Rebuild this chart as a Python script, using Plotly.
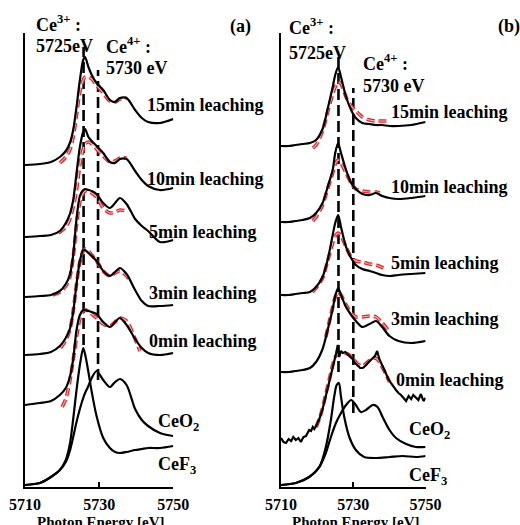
import plotly.graph_objects as go

W, H = 520, 525

# ---------------- Panel (a) data (stacked, arbitrary units) ----------------
GRID_A = [5710, 5714, 5717, 5719.4, 5721, 5722.1, 5723.0, 5723.9, 5724.8, 5725.7,
          5726.2, 5727.1, 5728.0, 5729.3, 5731.1, 5732.9, 5734.3, 5735.6, 5737.4,
          5739.7, 5741.5, 5743.2, 5746.4, 5750]
A_15MIN = [322, 323, 325, 330, 336, 344, 357, 380, 407, 427, 430, 420, 412, 404, 397,
           387, 385, 389, 389, 377, 369, 365, 364, 368]
A_10MIN = [250, 251, 252, 256, 264, 273, 287, 314, 340, 355, 358, 350, 346, 341, 334,
           325, 324, 328, 328, 316, 307, 301, 297, 299]
A_5MIN = [190, 191, 192, 196, 203, 212, 232, 268, 291, 297, 298, 297, 296, 293, 284,
          279, 284, 289, 283, 268, 261, 256, 245, 247]
A_3MIN = [132, 133, 135, 141, 149, 158, 175, 203, 226, 237, 237, 234, 231, 226, 216,
          211, 215, 219, 213, 197, 186, 181, 181, 182]
A_0MIN = [82, 84, 86, 92, 99, 110, 128, 157, 172, 177, 177, 176, 175, 173, 165,
          160, 165, 169, 162, 148, 139, 134, 132, 134]
A_CEO2 = [2, 4, 10, 17, 25, 36, 50, 65, 78, 89, 94, 101, 109, 116, 107, 100, 105, 108,
          102, 78, 67, 61, 54, 51]
A_CEF3 = [2, 4, 10, 17, 27, 43, 68, 97, 122, 139, 133, 115, 95, 71, 49, 39, 35, 34,
          35, 37, 38, 39, 39, 41]

FIT_A_15MIN_E = [5719.4, 5721, 5722.1, 5723.0, 5723.9, 5724.8, 5725.7, 5726.2, 5727.1,
                 5728.0, 5729.3, 5731.1, 5732.9, 5734.3, 5735.6, 5737.4]
FIT_A_15MIN = [324, 330, 337, 350, 372, 395, 407, 410, 410, 408, 402, 394, 386, 385, 388, 389]
FIT_A_10MIN_E = [5719.0, 5721, 5722.1, 5723.0, 5723.9, 5724.8, 5725.7, 5726.2, 5727.1,
                 5728.0, 5729.3, 5731.1, 5732.9, 5734.3, 5735.6, 5737.4]
FIT_A_10MIN = [254, 260, 268, 280, 297, 322, 338, 343, 345, 343, 338, 331, 325, 326, 329, 329]
FIT_A_5MIN_E = [5717.5, 5719.4, 5721, 5722.1, 5723.0, 5723.9, 5724.8, 5725.7, 5726.2,
                5727.1, 5728.0, 5729.3, 5731.1, 5732.9, 5734.3, 5735.6, 5737.4]
FIT_A_5MIN = [192, 195, 201, 210, 230, 262, 285, 294, 296, 296, 294, 290, 279, 274, 275, 277, 276]
FIT_A_3MIN_E = [5719.6, 5721, 5722.1, 5723.0, 5723.9, 5724.8, 5725.7, 5726.2, 5727.1,
                5728.0, 5729.3, 5731.1, 5732.9, 5734.3, 5735.6, 5737.4, 5738.6]
FIT_A_3MIN = [139, 147, 157, 176, 203, 225, 236, 238, 236, 232, 226, 216, 211, 214, 216, 211, 205]
FIT_A_0MIN_E = [5720.0, 5721, 5722.1, 5723.0, 5723.9, 5724.8, 5725.7, 5726.2, 5727.1,
                5728.0, 5729.3, 5731.1, 5732.9, 5734.3, 5735.6, 5737.4, 5739.7, 5741.0]
FIT_A_0MIN = [80, 88, 106, 127, 150, 168, 176, 177, 176, 173, 169, 163, 161, 165, 169, 166, 148, 136]

# ---------------- Panel (b) data ----------------
GRID_B = [5710, 5712, 5714, 5716, 5718, 5719.7, 5721.5, 5722.9, 5724.3, 5725, 5725.8,
          5726.6, 5728, 5729.4, 5730.7, 5732.5, 5734.5, 5736.3, 5738, 5740, 5742.5,
          5746, 5750]
B_15MIN = [341, 341, 342, 343, 344, 347, 358, 378, 400, 412, 420, 410, 390, 377, 369,
           364, 363, 362, 362, 361, 361, 362, 365]
B_10MIN = [265, 265, 266, 267, 269, 274, 284, 300, 317, 334, 344, 334, 317, 304, 298,
           293, 292, 294, 291, 289, 288, 289, 291]
B_5MIN = [192, 192, 193, 194, 195, 200, 210, 227, 252, 264, 272, 260, 240, 229, 222,
          218, 216, 214, 212, 211, 212, 213, 214]
B_3MIN = [115, 115, 116, 117, 119, 125, 138, 157, 178, 191, 199, 192, 180, 172, 166,
          160, 163, 166, 160, 151, 146, 144, 146]

B_0MIN_E = [5710, 5710.7, 5711.4, 5712.1, 5712.8, 5713.4, 5714.1, 5714.8, 5715.5, 5716.2,
            5716.9, 5717.4, 5717.8, 5718.3, 5718.8, 5719.2, 5719.7, 5720.6, 5721.5, 5722.4,
            5723.4, 5724.3, 5725.2, 5725.7, 5726.1, 5726.6, 5727.1, 5727.8, 5728.4, 5729.1,
            5729.8, 5730.5, 5731.2, 5731.9, 5732.6, 5733.3, 5734, 5734.7, 5735.4, 5736,
            5736.6, 5737.2, 5737.7, 5738.4, 5739, 5739.7, 5740.4, 5741.1, 5741.8, 5742.5,
            5743.2, 5743.9, 5744.6, 5745.3, 5746, 5746.6, 5747.3, 5748, 5748.7, 5749.4, 5750]
B_0MIN = [49, 45, 44, 48, 46, 50, 47, 49, 45, 50,
          51, 55, 57, 56, 60, 58, 61, 68, 78, 91,
          105, 120, 133, 142, 130, 136, 134, 135, 133, 131,
          128, 124, 121, 119, 119, 121, 124, 127, 129, 131,
          136, 128, 124, 118, 114, 108, 104, 100, 97, 94,
          92, 89, 86, 91, 88, 92, 89, 87, 93, 86, 89]

B_CEO2_E = [5710, 5714.1, 5717.8, 5720.6, 5722.4, 5723.8, 5725.2, 5726.6, 5728, 5729.4,
            5730.7, 5732.1, 5733.5, 5735.4, 5736.7, 5738.1, 5740, 5741.8, 5744.6, 5747.3, 5750]
B_CEO2 = [2, 4, 10, 20, 34, 50, 64, 74, 82, 87, 82, 75, 77, 82, 80, 70, 57, 49, 43, 40, 40]
B_CEF3_E = [5710, 5714.1, 5717.8, 5720.6, 5722.4, 5723.8, 5724.7, 5725.4, 5726, 5726.6,
            5727.5, 5728.9, 5730.7, 5733, 5736.3, 5740, 5743.7, 5747.3, 5750]
B_CEF3 = [2, 4, 10, 20, 40, 67, 90, 102, 104, 90, 70, 50, 37, 30, 29, 30, 31, 30, 31]

FIT_B_15MIN_E = [5718.8, 5719.7, 5721.5, 5722.9, 5724.3, 5725, 5725.8, 5726.6, 5728,
                 5729.4, 5730.7, 5732.5, 5734.5, 5736.3, 5738, 5739.5]
FIT_B_15MIN = [339, 342, 356, 375, 393, 400, 405, 403, 390, 381, 376, 370, 367, 366, 366, 366]
FIT_B_10MIN_E = [5718.8, 5719.7, 5721.5, 5722.9, 5724.3, 5725, 5725.8, 5726.6, 5728,
                 5729.4, 5730.7, 5732.5, 5734.5, 5736.3, 5737.3]
FIT_B_10MIN = [266, 270, 282, 298, 314, 323, 327, 324, 314, 304, 298, 296, 295, 295, 294]
FIT_B_5MIN_E = [5718.7, 5719.7, 5721.5, 5722.9, 5724.3, 5725, 5725.8, 5726.6, 5728,
                5729.4, 5730.7, 5732.5, 5734.5, 5736.3, 5738.3]
FIT_B_5MIN = [195, 199, 209, 226, 244, 251, 254, 251, 240, 230, 226, 225, 223, 222, 219]
FIT_B_3MIN_E = [5722.4, 5723.4, 5724.3, 5725, 5725.8, 5726.6, 5728, 5729.4, 5730.7,
                5732.5, 5734.5, 5736.3, 5737.8, 5740]
FIT_B_3MIN = [150, 166, 180, 190, 195, 192, 182, 174, 170, 170, 171, 170, 165, 155]
FIT_B_0MIN_E = [5719.7, 5720.6, 5721.5, 5722.4, 5723.4, 5724.3, 5725.2, 5726.1, 5727.1,
                5728.4, 5729.8, 5731.2, 5732.6, 5734, 5735.4, 5736.6, 5737.7, 5739, 5740]
FIT_B_0MIN = [60, 68, 79, 93, 108, 122, 131, 134, 134, 133, 129, 123, 121, 125, 129, 128, 122, 113, 105]

# reference edge markers (Ce3+ ~5725 eV, Ce4+ ~5730 eV) and their vertical extents
MARK_A_E = [5725.8, 5729.7]
MARK_A_SPAN = [[142, 440], [107, 417]]
MARK_B_E = [5725.9, 5730.0]
MARK_B_SPAN = [[115, 430], [74, 399]]

X_TICKS = [5710, 5730, 5750]
Y_MAX = 454

FONT = "Liberation Serif"

fig = go.Figure()


def add_panel(xa, ya, black, fits, marks, spans):
    for e, (y0, y1) in zip(marks, spans):
        fig.add_trace(go.Scatter(x=[e, e], y=[y0, y1], mode="lines", xaxis=xa, yaxis=ya,
                                 line=dict(color="black", width=2.6, dash="11px,5px"),
                                 showlegend=False, hoverinfo="skip"))
    for ex, ey in fits:
        fig.add_trace(go.Scatter(x=ex, y=ey, mode="lines", xaxis=xa, yaxis=ya,
                                 line=dict(color="#e0262b", width=3.6, dash="8px,4px",
                                           shape="spline", smoothing=0.8),
                                 showlegend=False, hoverinfo="skip"))
        fig.add_trace(go.Scatter(x=ex, y=ey, mode="lines", xaxis=xa, yaxis=ya,
                                 line=dict(color="#f7b5b5", width=1.1, dash="8px,4px",
                                           shape="spline", smoothing=0.8),
                                 showlegend=False, hoverinfo="skip"))
    for ex, ey, shp in black:
        fig.add_trace(go.Scatter(x=ex, y=ey, mode="lines", xaxis=xa, yaxis=ya,
                                 line=dict(color="black", width=2.2, shape=shp,
                                           smoothing=0.8 if shp == "spline" else None),
                                 showlegend=False, hoverinfo="skip"))


add_panel("x", "y",
          [(GRID_A, A_15MIN, "spline"), (GRID_A, A_10MIN, "spline"), (GRID_A, A_5MIN, "spline"),
           (GRID_A, A_3MIN, "spline"), (GRID_A, A_0MIN, "spline"),
           (GRID_A, A_CEO2, "spline"), (GRID_A, A_CEF3, "spline")],
          [(FIT_A_15MIN_E, FIT_A_15MIN), (FIT_A_10MIN_E, FIT_A_10MIN), (FIT_A_5MIN_E, FIT_A_5MIN),
           (FIT_A_3MIN_E, FIT_A_3MIN), (FIT_A_0MIN_E, FIT_A_0MIN)],
          MARK_A_E, MARK_A_SPAN)

add_panel("x2", "y2",
          [(GRID_B, B_15MIN, "spline"), (GRID_B, B_10MIN, "spline"), (GRID_B, B_5MIN, "spline"),
           (GRID_B, B_3MIN, "spline"), (B_0MIN_E, B_0MIN, "linear"),
           (B_CEO2_E, B_CEO2, "spline"), (B_CEF3_E, B_CEF3, "spline")],
          [(FIT_B_15MIN_E, FIT_B_15MIN), (FIT_B_10MIN_E, FIT_B_10MIN), (FIT_B_5MIN_E, FIT_B_5MIN),
           (FIT_B_3MIN_E, FIT_B_3MIN), (FIT_B_0MIN_E, FIT_B_0MIN)],
          MARK_B_E, MARK_B_SPAN)

xaxis_common = dict(range=[5710, 5750], tickvals=X_TICKS, ticks="inside", ticklen=5,
                    tickwidth=2, tickcolor="black", showline=True, linewidth=2,
                    linecolor="black", showgrid=False, zeroline=False, automargin=False,
                    tickfont=dict(family=FONT, size=16, color="black", weight="bold"),
                    ticklabelstandoff=2)
yaxis_common = dict(range=[0, Y_MAX], showline=True, linewidth=2, linecolor="black",
                    showgrid=False, zeroline=False, showticklabels=False, ticks="",
                    automargin=False)

Y_DOM = [(H - 487) / H, (H - 33) / H]
fig.update_layout(
    template="none",
    width=W, height=H, autosize=False,
    margin=dict(l=0, r=0, t=0, b=0, pad=0, autoexpand=False),
    plot_bgcolor="white", paper_bgcolor="white", showlegend=False,
    xaxis=dict(domain=[25 / W, 173.3 / W], anchor="y", **xaxis_common),
    yaxis=dict(domain=Y_DOM, anchor="x", **yaxis_common),
    xaxis2=dict(domain=[281 / W, 425.6 / W], anchor="y2", **xaxis_common),
    yaxis2=dict(domain=Y_DOM, anchor="x2", **yaxis_common),
)


def label(text, px, py, size=18, anchor="left"):
    fig.add_annotation(text="<b>" + text + "</b>", x=px / W, y=1 - py / H,
                       xref="paper", yref="paper", xanchor=anchor, yanchor="middle",
                       showarrow=False, font=dict(family=FONT, size=size, color="black"))


LABELS_A = [("Ce<sup>3+</sup> :", 34, 23), ("5725eV", 34, 46), ("Ce<sup>4+</sup> :", 104, 46),
            ("5730 eV", 104, 68), ("(a)", 228, 26), ("15min leaching", 145, 105),
            ("10min leaching", 145, 179), ("5min leaching", 147, 232),
            ("3min leaching", 147, 293), ("0min leaching", 147, 341),
            ("CeO<sub>2</sub>", 156, 422), ("CeF<sub>3</sub>", 156, 465)]
LABELS_B = [("Ce<sup>3+</sup> :", 287, 27), ("5725eV", 287, 53), ("Ce<sup>4+</sup> :", 361, 62),
            ("5730 eV", 361, 86), ("(b)", 496, 26), ("15min leaching", 389, 112),
            ("10min leaching", 389, 187), ("5min leaching", 389, 263),
            ("3min leaching", 389, 319), ("0min leaching", 394, 380),
            ("CeO<sub>2</sub>", 407, 430), ("CeF<sub>3</sub>", 407, 476)]
for t, px, py in LABELS_A + LABELS_B:
    label(t, px, py)

label("Photon Energy [eV]", 101, 522, size=15, anchor="center")
label("Photon Energy [eV]", 356, 522, size=15, anchor="center")

fig.write_html(
    "out.html",
    config={"displayModeBar": False},
    post_script="document.body.style.margin='0px';document.body.style.padding='0px';"
                "document.documentElement.style.overflow='hidden';",
)
